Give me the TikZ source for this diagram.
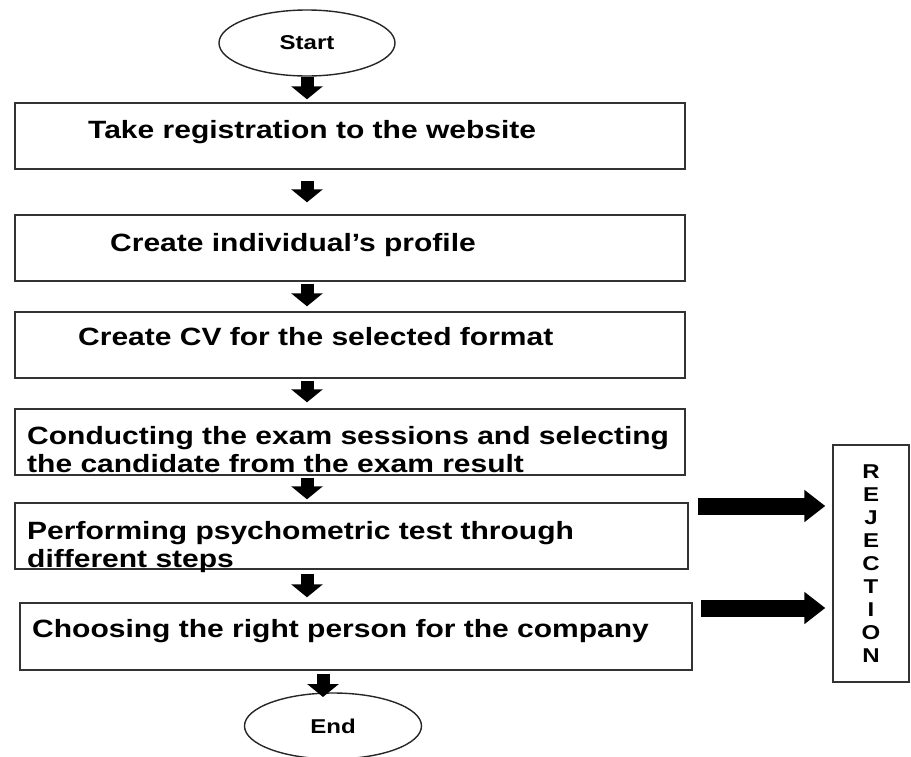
\documentclass[tikz,border=0pt]{standalone}
\usepackage{fontspec}
\setmainfont{Liberation Sans}[FakeStretch=1.2]
\usetikzlibrary{shapes.geometric,arrows.meta}

\tikzset{
    stepbox/.style={draw=black!80, line width=1.4pt, rectangle, inner sep=0pt},
    oval/.style={draw=black!85, line width=1.4pt, ellipse, inner sep=0pt,
        minimum width=176pt, minimum height=66pt, font=\fontsize{20}{24}\selectfont\bfseries},
    steptext/.style={anchor=base west, inner sep=0pt, align=left,
        font=\fontsize{25}{28}\selectfont\bfseries},
    downarrow/.style={line width=13pt, -{Triangle[width=31pt,length=13pt]}},
    sidearrow/.style={line width=17pt, -{Triangle[width=31pt,length=21pt]}}
}

\begin{document}
\begin{tikzpicture}[x=1pt, y=-1pt]
    \useasboundingbox (0,0) rectangle (911,756);

    % Start and End
    \node[oval] (start) at (307,43) {Start};
    \node[oval, minimum width=177pt] (finish) at (333,726) {End};

    % Steps
    \node[stepbox, minimum width=670pt, minimum height=66pt] (box1) at (350,136) {};
    \node[stepbox, minimum width=670pt, minimum height=66pt] (box2) at (350,248) {};
    \node[stepbox, minimum width=670pt, minimum height=66pt] (box3) at (350,345) {};
    \node[stepbox, minimum width=670pt, minimum height=66pt] (box4) at (350,442) {};
    \node[stepbox, minimum width=673pt, minimum height=66pt] (box5) at (351.5,536) {};
    \node[stepbox, minimum width=672pt, minimum height=67pt] (box6) at (356,636.5) {};

    % base of two-line texts is the last line
    \node[steptext] (t1) at (88,138) {Take registration to the website};
    \node[steptext] (t2) at (110,251) {Create individual’s profile};
    \node[steptext] (t3) at (78,345) {Create CV for the selected format};
    \node[steptext] (t4) at (27,472) {Conducting the exam sessions and selecting\\the candidate from the exam result};
    \node[steptext] (t5) at (27,567) {Performing psychometric test through\\different steps};
    \node[steptext] (t6) at (32,637) {Choosing the right person for the company};

    % Rejection
    \node[stepbox, minimum width=76pt, minimum height=237pt, align=center,
        font=\fontsize{20}{23}\selectfont\bfseries] (rej) at (871,563.5) {R\\E\\J\\E\\C\\T\\I\\O\\N};

    % Down arrows
    \coordinate (col) at (307,0);
    \coordinate (endcol) at (323,0);
    \draw[downarrow, shorten >=3pt] (start.south) -- (box1.north -| col);
    \foreach \a/\b/\s/\e in {box1/box2/11/12, box2/box3/2/5, box3/box4/2/6, box4/box5/2/3, box5/box6/4/5} {
        \draw[downarrow, shorten <=\s pt, shorten >=\e pt] (\a.south -| col) -- (\b.north -| col);
    }
    \draw[downarrow, shorten <=3pt, shorten >=29pt] (box6.south -| endcol) -- (finish.center -| endcol);

    % Arrows to rejection
    \coordinate (r1) at (0,506);
    \coordinate (r2) at (0,608);
    \draw[sidearrow, shorten <=9pt, shorten >=7pt] (box5.east |- r1) -- (rej.west |- r1);
    \draw[sidearrow, shorten <=8pt, shorten >=7pt] (box6.east |- r2) -- (rej.west |- r2);
\end{tikzpicture}
\end{document}
